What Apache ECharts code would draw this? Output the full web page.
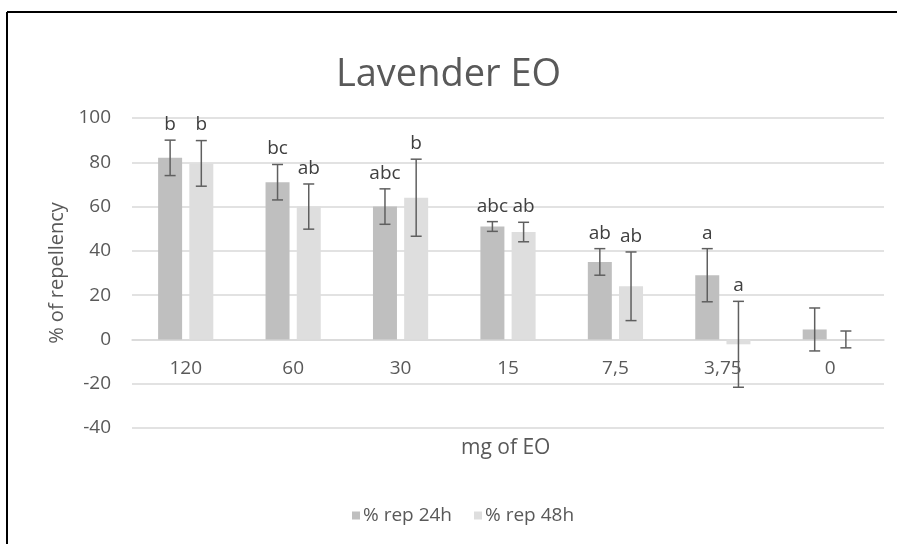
<!DOCTYPE html>
<html>
<head>
<meta charset="utf-8">
<script src="https://cdn.jsdelivr.net/npm/echarts@6/dist/echarts.min.js"></script>
<style>
html,body{margin:0;padding:0;background:#fff;}
#chart{width:897px;height:544px;}
</style>
</head>
<body>
<div id="chart"></div>
<script>
const categories = ['120', '60', '30', '15', '7,5', '3,75', '0'];
const rep24 = [82, 71, 60, 51, 35, 29, 4.5];
const rep48 = [79.5, 60, 64, 48.5, 24, -2.2, 0];
const err24 = [8, 8, 8, 2.2, 6, 12, 9.7];
const err48 = [10.3, 10.2, 17.4, 4.4, 15.5, 19.4, 3.8];
const letters24 = ['b', 'bc', 'abc', 'abc', 'ab', 'a', ''];
const letters48 = ['b', 'ab', 'b', 'ab', 'ab', 'a', ''];
const yTicks = [-40, -20, 0, 20, 40, 60, 80, 100];

const FONT = 'Open Sans';
const BAR_W = 24;
const GAP = 7.2;

function errData(vals, errs, letters) {
  return vals.map((v, i) => [i, v, errs[i], letters[i]]);
}

function makeErr(sign) {
  return function (params, api) {
    const cat = api.value(0);
    const v = api.value(1);
    const e = api.value(2);
    const lab = params.seriesIndex === 2 ? letters24[params.dataIndex] : letters48[params.dataIndex];
    const c = api.coord([cat, v]);
    const t = api.coord([cat, v + e]);
    const b = api.coord([cat, v - e]);
    const x = c[0] + sign * (BAR_W + GAP) / 2;
    const cap = 5.5;
    const st = { stroke: '#5f5f5f', lineWidth: 1.5 };
    return {
      type: 'group',
      children: [
        { type: 'line', shape: { x1: x, y1: t[1], x2: x, y2: b[1] }, style: st },
        { type: 'line', shape: { x1: x - cap, y1: t[1], x2: x + cap, y2: t[1] }, style: st },
        { type: 'line', shape: { x1: x - cap, y1: b[1], x2: x + cap, y2: b[1] }, style: st },
        { type: 'text', style: { x: x, y: t[1] - 6, text: lab, fill: '#404040', font: '19px "' + FONT + '"', textAlign: 'center', textVerticalAlign: 'bottom' } }
      ]
    };
  };
}

const chart = echarts.init(document.getElementById('chart'));
chart.setOption({
  animation: false,
  textStyle: { fontFamily: FONT },
  title: {
    text: 'Lavender EO', left: 'center', top: 51,
    textStyle: { fontFamily: FONT, fontSize: 38, fontWeight: 'normal', color: '#595959' }
  },
  grid: { left: 132, right: 13, top: 118, bottom: 116, containLabel: false },
  legend: {
    data: ['% rep 24h', '% rep 48h'],
    left: 347, top: 501,
    icon: 'rect', itemWidth: 8, itemHeight: 8, itemGap: 22,
    textStyle: { fontFamily: FONT, fontSize: 19, color: '#595959', padding: [0, 0, 0, -2] }
  },
  xAxis: {
    type: 'category', data: categories,
    axisLine: { onZero: false, lineStyle: { color: '#d9d9d9', width: 1.5 } },
    axisTick: { show: false },
    axisLabel: { fontFamily: FONT, fontSize: 19, color: '#595959', margin: 20 }
  },
  yAxis: {
    type: 'value', min: -40, max: 100, interval: 20,
    name: '% of repellency', nameLocation: 'middle', nameGap: 60, nameRotate: 90,
    nameTextStyle: { fontFamily: FONT, fontSize: 20, color: '#595959' },
    axisLine: { show: false }, axisTick: { show: false },
    axisLabel: { fontFamily: FONT, fontSize: 19, color: '#595959', margin: 21,
      formatter: v => yTicks.includes(v) ? String(v) : '' },
    splitLine: { lineStyle: { color: '#d9d9d9', width: 1.5 } }
  },
  graphic: [
    { type: 'text', left: 461, top: 438, style: { text: 'mg of EO', font: '21px "' + FONT + '"', fill: '#595959' } },
    { type: 'line', shape: { x1: 7, y1: 12, x2: 897, y2: 12 }, style: { stroke: '#000', lineWidth: 2 } },
    { type: 'line', shape: { x1: 7, y1: 12, x2: 7, y2: 544 }, style: { stroke: '#000', lineWidth: 2 } }
  ],
  series: [
    { name: '% rep 24h', type: 'bar', data: rep24, barWidth: BAR_W, barGap: (GAP / BAR_W * 100) + '%', itemStyle: { color: '#bfbfbf' } },
    { name: '% rep 48h', type: 'bar', data: rep48, barWidth: BAR_W, itemStyle: { color: '#dedede' } },
    { name: 'err24', type: 'custom', data: errData(rep24, err24, letters24), renderItem: makeErr(-1), z: 5, encode: { x: 0, y: 1 } },
    { name: 'err48', type: 'custom', data: errData(rep48, err48, letters48), renderItem: makeErr(1), z: 5, encode: { x: 0, y: 1 } }
  ]
});
// place the category axis on the zero line (as in the reference)
const zeroY = chart.convertToPixel({ yAxisIndex: 0 }, 0);
const minY = chart.convertToPixel({ yAxisIndex: 0 }, -40);
chart.setOption({ xAxis: { offset: zeroY - minY } });
</script>
</body>
</html>
